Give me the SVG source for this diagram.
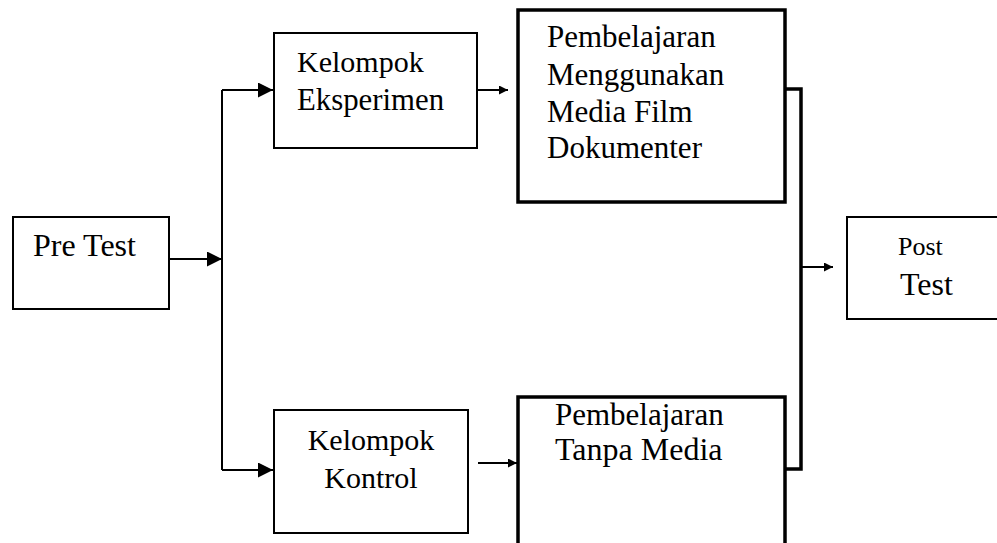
<svg xmlns="http://www.w3.org/2000/svg" width="997" height="543" viewBox="0 0 997 543">
<style>
.box{fill:#fff;stroke:#000;stroke-width:2}
.thick{fill:#fff;stroke:#000;stroke-width:3.5}
text{font-family:'Liberation Serif','Times New Roman',Times,serif;font-size:30px;fill:#000}
.l31{font-size:31px}
.ln{fill:none;stroke:#000;stroke-width:2}
.lnt{fill:none;stroke:#000;stroke-width:3.5}
</style>
<defs>
<marker id="big" viewBox="0 0 10 10" refX="10" refY="5" markerWidth="15" markerHeight="15" markerUnits="userSpaceOnUse" orient="auto"><path d="M0,0 L10,5 L0,10 z" fill="#000"/></marker>
<marker id="small" viewBox="0 0 10 10" refX="10" refY="5" markerWidth="10" markerHeight="9" markerUnits="userSpaceOnUse" orient="auto"><path d="M0,0 L10,5 L0,10 z" fill="#000"/></marker>
</defs>
<g id="connectors">
<path class="ln" d="M169,259 H222" marker-end="url(#big)"/>
<path class="ln" d="M222,90 V470"/>
<path class="ln" d="M222,90 H273" marker-end="url(#big)"/>
<path class="ln" d="M222,470 H273" marker-end="url(#big)"/>
<path class="ln" d="M477,90 H508" marker-end="url(#small)"/>
<path class="ln" d="M478,463 H517" marker-end="url(#small)"/>
<path class="lnt" d="M785,89 H801 V469 H785"/>
<path class="ln" d="M801,267 H833" marker-end="url(#small)"/>
</g>
<g id="pretest">
<rect class="box" x="13" y="217" width="156" height="92"/>
<text x="33" y="256" style="font-size:32px">Pre Test</text>
</g>
<g id="eksperimen">
<rect class="box" x="274" y="33" width="203" height="115"/>
<text x="297" y="72">Kelompok</text>
<text x="297" y="110" style="font-size:30.8px">Eksperimen</text>
</g>
<g id="pembelajaran-film">
<rect class="thick" x="518" y="10" width="267" height="192"/>
<text class="l31" x="547" y="47">Pembelajaran</text>
<text class="l31" x="547" y="85">Menggunakan</text>
<text class="l31" x="547" y="122">Media Film</text>
<text class="l31" x="547" y="158">Dokumenter</text>
</g>
<g id="kontrol">
<rect class="box" x="274" y="410" width="194" height="123"/>
<text x="371" y="450" text-anchor="middle">Kelompok</text>
<text x="371" y="488" text-anchor="middle">Kontrol</text>
</g>
<g id="pembelajaran-tanpa">
<rect class="thick" x="518" y="397" width="267" height="160"/>
<text class="l31" x="555" y="425">Pembelajaran</text>
<text x="555" y="460" style="font-size:32px">Tanpa Media</text>
</g>
<g id="posttest">
<rect class="box" x="847" y="217" width="160" height="102"/>
<text x="898" y="255" style="font-size:26px">Post</text>
<text x="900" y="295" style="font-size:32px">Test</text>
</g>
</svg>
